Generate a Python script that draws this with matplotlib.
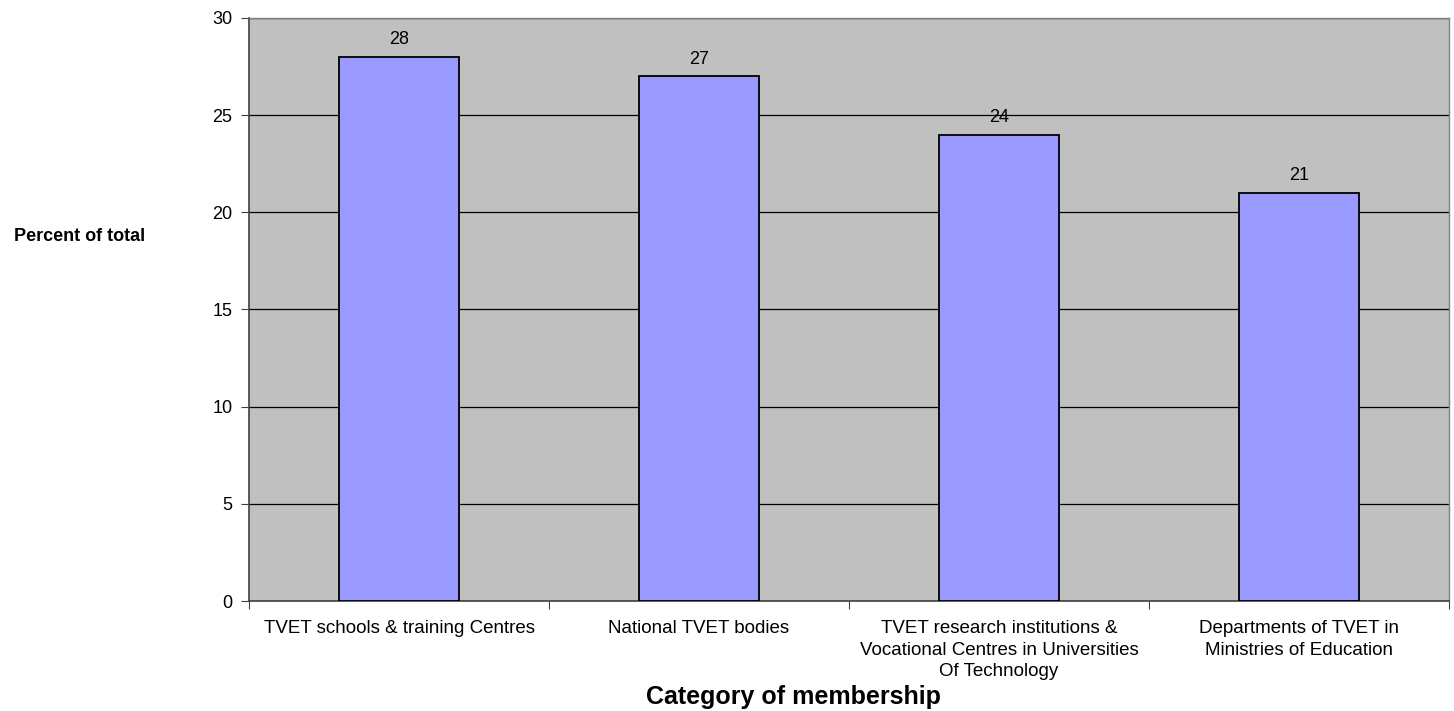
import numpy as np
import matplotlib.pyplot as plt

plt.rcParams['font.family'] = ['Liberation Sans', 'DejaVu Sans']

categories = [ 'TVET schools & training Centres',
               'National TVET bodies',
               'TVET research institutions &\nVocational Centres in Universities\nOf Technology',
               'Departments of TVET in\nMinistries of Education' ]
percents = [ 28, 27, 24, 21 ]

fig = plt.figure( figsize = ( 14.54, 7.11 ), dpi = 100 )
ax = fig.add_axes( [ 249 / 1454, 110 / 711, 1200 / 1454, 583 / 711 ] )
ax.set_facecolor( '#C0C0C0' )

x = np.arange( len( categories ) )
bars = ax.bar( x, percents, width = 0.4, color = '#9999FF', edgecolor = 'black', linewidth = 1.3, zorder = 3 )
for rect, v in zip( bars, percents ):
    ax.text( rect.get_x() + rect.get_width() / 2, v + 0.45, str( v ),
             ha = 'center', va = 'bottom', fontsize = 13 )

ax.set_xlim( -0.5, len( categories ) - 0.5 )
ax.set_ylim( 0, 30 )
ax.set_yticks( np.arange( 0, 31, 5 ) )
ax.yaxis.grid( True, color = 'black', linewidth = 0.9, zorder = 1 )
ax.set_axisbelow( True )

# category ticks sit between the bars, labels sit under the bars
ax.set_xticks( np.arange( -0.5, len( categories ), 1.0 ) )
ax.set_xticklabels( [] )
ax.set_xticks( x, minor = True )
ax.set_xticklabels( categories, minor = True, fontsize = 13.5, linespacing = 1.33, va = 'top' )
ax.tick_params( axis = 'x', which = 'minor', length = 0, pad = 14 )
ax.tick_params( axis = 'x', which = 'major', length = 6, color = '#404040', direction = 'out' )
ax.tick_params( axis = 'y', length = 6, color = '#404040', labelsize = 13, pad = 6 )

for side in [ 'left', 'bottom' ]:
    ax.spines[side].set_color( '#404040' )
    ax.spines[side].set_linewidth( 1.2 )
for side in [ 'top', 'right' ]:
    ax.spines[side].set_color( '#808080' )
    ax.spines[side].set_linewidth( 1.0 )

fig.text( 80 / 1454, 1 - 237 / 711, 'Percent of total', ha = 'center', va = 'center',
          fontsize = 13, fontweight = 'bold' )
fig.text( 793 / 1454, 1 - 697 / 711, 'Category of membership', ha = 'center', va = 'center',
          fontsize = 18, fontweight = 'bold' )

fig.savefig( 'out.png' )
